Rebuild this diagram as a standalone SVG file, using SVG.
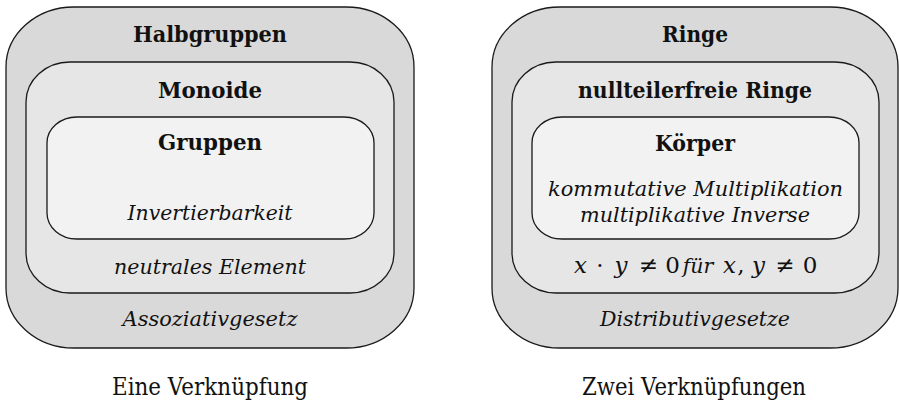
<svg xmlns="http://www.w3.org/2000/svg" width="899" height="403" viewBox="0 0 899 403">
  <style>
    .lvl1 { fill: #d9d9d9; stroke: #1a1a1a; stroke-width: 1.3; }
    .lvl2 { fill: #e6e6e6; stroke: #1a1a1a; stroke-width: 1.3; }
    .lvl3 { fill: #f2f2f2; stroke: #1a1a1a; stroke-width: 1.3; }
    text { font-family: "DejaVu Serif", "Liberation Serif", serif; fill: #111; text-anchor: middle; }
    .title { font-weight: bold; font-size: 22px; }
    .prop { font-style: italic; font-size: 20.5px; }
    .caption { font-size: 24px; }
    .math { font-size: 23px; }
    .math .v { font-style: italic; }
    .math .w { font-style: italic; font-size: 20.5px; }
  </style>

  <!-- one operation: semigroups > monoids > groups -->
  <g id="halbgruppen">
    <rect class="lvl1" x="6" y="7" width="408" height="341" rx="68" ry="60"/>
    <text class="title" x="210" y="42" textLength="154" lengthAdjust="spacingAndGlyphs">Halbgruppen</text>
    <text class="prop" x="210" y="326" textLength="175" lengthAdjust="spacingAndGlyphs">Assoziativgesetz</text>
  </g>
  <g id="monoide">
    <rect class="lvl2" x="26" y="62" width="368" height="231" rx="44" ry="40"/>
    <text class="title" x="210" y="98" textLength="104" lengthAdjust="spacingAndGlyphs">Monoide</text>
    <text class="prop" x="210" y="274" textLength="192" lengthAdjust="spacingAndGlyphs">neutrales Element</text>
  </g>
  <g id="gruppen">
    <rect class="lvl3" x="47" y="117" width="327" height="122" rx="30" ry="26"/>
    <text class="title" x="210" y="150" textLength="104" lengthAdjust="spacingAndGlyphs">Gruppen</text>
    <text class="prop" x="210" y="220" textLength="165" lengthAdjust="spacingAndGlyphs">Invertierbarkeit</text>
  </g>

  <!-- two operations: rings > integral domains > fields -->
  <g id="ringe">
    <rect class="lvl1" x="492" y="7" width="406" height="341" rx="68" ry="60"/>
    <text class="title" x="695" y="42" textLength="66" lengthAdjust="spacingAndGlyphs">Ringe</text>
    <text class="prop" x="695" y="326" textLength="190" lengthAdjust="spacingAndGlyphs">Distributivgesetze</text>
  </g>
  <g id="nullteilerfreie-ringe">
    <rect class="lvl2" x="512" y="62" width="367" height="231" rx="44" ry="40"/>
    <text class="title" x="695" y="98" textLength="234" lengthAdjust="spacingAndGlyphs">nullteilerfreie Ringe</text>
    <text class="math" y="273"><tspan class="v" x="580.5">x</tspan><tspan x="600">·</tspan><tspan class="v" x="621">y</tspan><tspan x="648.5">≠</tspan><tspan x="672.5">0</tspan><tspan class="w" x="698">für</tspan><tspan class="v" x="729.5">x</tspan><tspan x="741">,</tspan><tspan class="v" x="758.5">y</tspan><tspan x="785">≠</tspan><tspan x="810">0</tspan></text>
  </g>
  <g id="koerper">
    <rect class="lvl3" x="532" y="117" width="327" height="122" rx="30" ry="26"/>
    <text class="title" x="695" y="151" textLength="80" lengthAdjust="spacingAndGlyphs">Körper</text>
    <text class="prop" x="695.5" y="196" textLength="295" lengthAdjust="spacingAndGlyphs">kommutative Multiplikation</text>
    <text class="prop" x="695" y="222" textLength="230" lengthAdjust="spacingAndGlyphs">multiplikative Inverse</text>
  </g>

  <!-- captions -->
  <g id="captions">
    <text class="caption" x="210" y="395" textLength="196" lengthAdjust="spacingAndGlyphs">Eine Verknüpfung</text>
    <text class="caption" x="694" y="395" textLength="224" lengthAdjust="spacingAndGlyphs">Zwei Verknüpfungen</text>
  </g>
</svg>
